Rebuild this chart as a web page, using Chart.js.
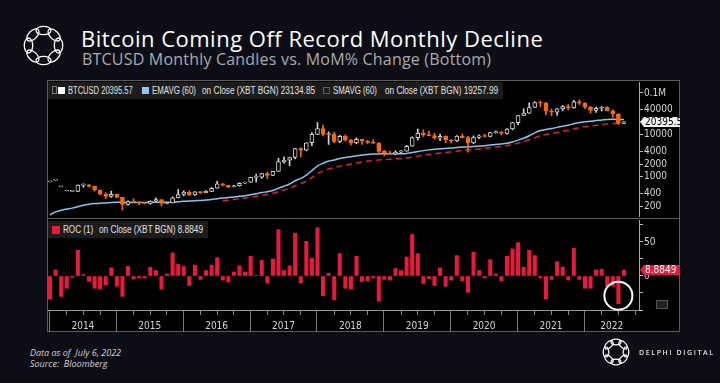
<!DOCTYPE html>
<html>
<head>
<meta charset="utf-8">
<script src="https://cdn.jsdelivr.net/npm/chart.js@4.4.1/dist/chart.umd.min.js"></script>
<style>
  html, body { margin: 0; padding: 0; }
  body { width: 720px; height: 383px; background: #0d0e15; position: relative; overflow: hidden; font-family: 'Open Sans', sans-serif; }
  .abs { position: absolute; }
  #title { left: 81px; top: 27px; font-size: 22px; line-height: 22px; letter-spacing: 0.5px; color: #fff; white-space: nowrap; }
  #subtitle { left: 82px; top: 51px; font-size: 16px; line-height: 16px; letter-spacing: 0.2px; color: #a9aab1; white-space: nowrap; }
  #panel { left: 47px; top: 80px; width: 633px; height: 252px; background: #000; border: 1px solid #5c5c5c; box-sizing: border-box; }
  #divider { left: 47px; top: 218px; width: 633px; height: 1px; background: #5c5c5c; }
  canvas { position: absolute; }
  .lg { position: absolute; background: #1c1c1c; }
  .lt { position: absolute; font-family: 'Liberation Sans', Arial, sans-serif; font-size: 10px; line-height: 10px; color: #e2e2e2; white-space: nowrap; transform-origin: 0 50%; }
  .sw { position: absolute; width: 7px; height: 7px; box-sizing: border-box; }
  .foot { left: 30px; font-size: 9px; line-height: 11px; font-style: italic; color: #d0d0d6; white-space: nowrap; }
  #delphi { left: 639px; top: 349px; font-size: 7px; line-height: 8px; letter-spacing: 1.6px; color: #e0e0e0; font-weight: 600; white-space: nowrap; }
</style>
</head>
<body>
<div id="panel" class="abs"></div>
<div id="divider" class="abs"></div>

<svg class="abs" style="left:21px;top:23px" width="45" height="45" viewBox="-22.5 -22.5 45 45">
  <g fill="none" stroke="#fff" stroke-width="1.3">
    <ellipse rx="7.5" ry="4.2" transform="rotate(0) translate(0,-15)"/>
    <ellipse rx="7.5" ry="4.2" transform="rotate(45) translate(0,-15)"/>
    <ellipse rx="7.5" ry="4.2" transform="rotate(90) translate(0,-15)"/>
    <ellipse rx="7.5" ry="4.2" transform="rotate(135) translate(0,-15)"/>
    <ellipse rx="7.5" ry="4.2" transform="rotate(180) translate(0,-15)"/>
    <ellipse rx="7.5" ry="4.2" transform="rotate(225) translate(0,-15)"/>
    <ellipse rx="7.5" ry="4.2" transform="rotate(270) translate(0,-15)"/>
    <ellipse rx="7.5" ry="4.2" transform="rotate(315) translate(0,-15)"/>
  </g>
</svg>
<div id="title" class="abs">Bitcoin Coming Off Record Monthly Decline</div>
<div id="subtitle" class="abs">BTCUSD Monthly Candles vs. MoM% Change (Bottom)</div>

<canvas id="priceChart" width="633" height="138" style="left:47px;top:80px"></canvas>
<canvas id="rocChart" width="633" height="114" style="left:47px;top:218px"></canvas>

<!-- legends -->
<div class="lg" style="left:48px;top:82px;width:455px;height:17px"></div>
<div class="abs" style="left:52px;top:86px;width:3px;height:6px;border:1px solid #777"></div>
<div class="sw" style="left:58px;top:87px;background:#fff"></div>
<div class="lt" data-w="65" style="left:68px;top:86px">BTCUSD 20395.57</div>
<div class="sw" style="left:142px;top:87px;background:#8fc8f0"></div>
<div class="lt" data-w="44" style="left:152px;top:86px">EMAVG (60)</div>
<div class="lt" data-w="113" style="left:202px;top:86px">on Close (XBT BGN) 23134.85</div>
<div class="sw" style="left:323px;top:87px;border:1px solid #d6233d"></div>
<div class="lt" data-w="44" style="left:333px;top:86px">SMAVG (60)</div>
<div class="lt" data-w="113" style="left:385px;top:86px">on Close (XBT BGN) 19257.99</div>

<div class="lg" style="left:48px;top:221px;width:160px;height:17px"></div>
<div class="sw" style="left:52px;top:226px;width:8px;height:8px;background:#e9183d"></div>
<div class="lt" data-w="30" style="left:63px;top:225px">ROC (1)</div>
<div class="lt" data-w="104" style="left:99px;top:225px">on Close (XBT BGN) 8.8849</div>
<div class="abs" style="left:656px;top:300px;width:10px;height:7px;background:#222;border:1px solid #555"></div>

<div class="abs foot" style="top:347px">Data as of&nbsp; July 6, 2022</div>
<div class="abs foot" style="top:358px">Source:&nbsp; Bloomberg</div>
<svg class="abs" style="left:601px;top:337px" width="30" height="30" viewBox="-22.5 -22.5 45 45">
  <g fill="none" stroke="#fff" stroke-width="1.8">
    <ellipse rx="7.5" ry="4.2" transform="rotate(0) translate(0,-15)"/>
    <ellipse rx="7.5" ry="4.2" transform="rotate(45) translate(0,-15)"/>
    <ellipse rx="7.5" ry="4.2" transform="rotate(90) translate(0,-15)"/>
    <ellipse rx="7.5" ry="4.2" transform="rotate(135) translate(0,-15)"/>
    <ellipse rx="7.5" ry="4.2" transform="rotate(180) translate(0,-15)"/>
    <ellipse rx="7.5" ry="4.2" transform="rotate(225) translate(0,-15)"/>
    <ellipse rx="7.5" ry="4.2" transform="rotate(270) translate(0,-15)"/>
    <ellipse rx="7.5" ry="4.2" transform="rotate(315) translate(0,-15)"/>
  </g>
</svg>
<div id="delphi" class="abs">DELPHI DIGITAL</div>

<script>
// squeeze legend labels to the narrow terminal look
document.querySelectorAll('.lt[data-w]').forEach(el => {
  el.style.transform = 'scaleX(' + (el.dataset.w / el.offsetWidth) + ')';
});

// Monthly BTCUSD candles, Dec 2013 .. Jul 2022 (one entry per month)
const years = ['2014', '2015', '2016', '2017', '2018', '2019', '2020', '2021', '2022'];

const open = [754, 830, 573, 457, 448, 448, 630, 641, 587, 481, 387, 338, 378,
  320, 218, 254, 244, 236, 230, 263, 285, 230, 236, 314, 377,
  431, 369, 438, 417, 448, 531, 673, 625, 575, 610, 699, 742,
  964, 970, 1190, 1071, 1348, 2286, 2480, 2875, 4703, 4338, 6468, 10233,
  14156, 10221, 10397, 6973, 9240, 7494, 6404, 7780, 7037, 6625, 6318, 4017,
  3742, 3457, 3854, 4105, 5350, 8574, 10817, 10085, 9630, 8293, 9199, 7569,
  7193, 9350, 8599, 6438, 8658, 9461, 9137, 11323, 11680, 10784, 13781, 19625,
  29002, 33114, 45137, 58918, 57750, 37332, 35041, 41626, 47166, 43791, 61318, 57005,
  46306, 38483, 43194, 45538, 37714, 31792, 18731];

const high = [754, 830, 573, 457, 448, 640, 680, 650, 600, 490, 415, 455, 385,
  325, 265, 300, 260, 245, 268, 315, 285, 245, 330, 495, 465,
  460, 440, 440, 470, 550, 780, 700, 625, 620, 720, 750, 975,
  1150, 1210, 1290, 1350, 2760, 2980, 2950, 4750, 4980, 6470, 11400, 19800,
  17200, 11800, 11700, 9750, 10000, 7780, 8480, 7900, 7400, 7680, 6550, 4300,
  4100, 4200, 4300, 5600, 9000, 13800, 13200, 12300, 10900, 10500, 9500, 7750,
  9600, 10500, 9200, 9480, 10080, 10400, 11450, 12480, 12100, 14100, 19900, 29300,
  41950, 58350, 61800, 64900, 59500, 41300, 42400, 50500, 52900, 67000, 69000, 59100,
  47900, 45800, 48200, 47400, 39900, 31900, 20700];

const low = [754, 830, 573, 457, 448, 440, 560, 570, 450, 370, 300, 320, 310,
  160, 210, 240, 215, 225, 220, 255, 200, 225, 235, 310, 350,
  355, 360, 400, 410, 440, 530, 600, 545, 570, 600, 690, 740,
  750, 910, 900, 1060, 1340, 2100, 1830, 2670, 2975, 4150, 5500, 10200,
  9400, 5900, 6500, 6500, 7050, 5760, 6100, 5880, 6100, 6200, 3500, 3150,
  3400, 3350, 3700, 4080, 5300, 7500, 9100, 9400, 7800, 7300, 6500, 6400,
  6900, 8450, 3850, 6150, 8100, 8900, 8950, 10950, 9880, 10400, 13200, 17600,
  28700, 32300, 45000, 47000, 30000, 28800, 29300, 37300, 39600, 43300, 53300, 42000,
  32900, 34300, 37200, 37600, 26700, 17600, 18700];

const close = [754, 830, 573, 457, 448, 630, 641, 587, 481, 387, 338, 378, 320,
  218, 254, 244, 236, 230, 263, 285, 230, 236, 314, 377, 431,
  369, 438, 417, 448, 531, 673, 625, 575, 610, 699, 742, 964,
  970, 1190, 1071, 1348, 2286, 2480, 2875, 4703, 4338, 6468, 10233, 14156,
  10221, 10397, 6973, 9240, 7494, 6404, 7780, 7037, 6625, 6318, 4017, 3742,
  3457, 3854, 4105, 5350, 8574, 10817, 10085, 9630, 8293, 9199, 7569, 7193,
  9350, 8599, 6438, 8658, 9461, 9137, 11323, 11680, 10784, 13781, 19625, 29002,
  33114, 45137, 58918, 57750, 37332, 35041, 41626, 47166, 43791, 61318, 57005, 46306,
  38483, 43194, 45538, 37714, 31792, 18731, 20395.57];

const emaAvg = [122, 145, 159, 169, 178, 193, 208, 220, 229, 234, 237, 242, 245,
  244, 244, 244, 244, 244, 245, 246, 246, 245, 248, 252, 258,
  262, 267, 272, 278, 286, 299, 310, 319, 328, 340, 353, 373,
  393, 419, 440, 470, 530, 594, 669, 801, 917, 1099, 1399, 1817,
  2093, 2365, 2516, 2737, 2893, 3008, 3165, 3292, 3401, 3497, 3514, 3521,
  3519, 3530, 3549, 3608, 3771, 4002, 4202, 4380, 4508, 4662, 4757, 4837,
  4985, 5104, 5148, 5263, 5401, 5524, 5714, 5910, 6070, 6323, 6759, 7489,
  8329, 9536, 11156, 12684, 13492, 14199, 15099, 16151, 17058, 18510, 19773, 20643,
  21228, 21949, 22723, 23215, 23496, 23340, 23134.85];

const smaAvg = [null, null, null, null, null, null, null, null, null, null, null, null, null,
  null, null, null, null, null, null, null, null, null, null, null, null,
  null, null, null, null, null, null, 266, 276, 286, 298, 310, 326,
  342, 362, 380, 402, 440, 481, 529, 607, 679, 787, 957, 1193,
  1363, 1536, 1634, 1785, 1908, 2013, 2141, 2256, 2364, 2466, 2514, 2564,
  2608, 2663, 2723, 2805, 2938, 3107, 3265, 3418, 3550, 3697, 3817, 3932,
  4084, 4223, 4326, 4467, 4621, 4769, 4953, 5143, 5319, 5544, 5865, 6341,
  6887, 7632, 8607, 9562, 10175, 10748, 11431, 12208, 12927, 13938, 14875, 15631,
  16256, 16956, 17697, 18304, 18795, 19066, 19257.99];

// month-over-month % change
const roc = [-34, 9, -30, -18, -2, 38, 2, -8, -18, -19, -13, 12, -15,
  -30, 14, -4, -3, -3, 13, 8, -19, 3, 34, 17, 14,
  -14, 16, -5, 8, 16, 27, -6, -9, 6, 15, 6, 29,
  1, 23, -10, 25, 68, 8, 15, 63, -10, 51, 26, 71,
  -29, 4, -35, 33, -18, -19, 29, -8, -7, -3, -37, -5,
  -6, 11, 8, 28, 61, 33, -11, -4, -14, 12, -15, -6,
  30, -7, -24, 35, 8, -3, 24, 3, -7, 29, 40, 49,
  13, 38, 30, -3, -34, -5, 21, 13, -6, 41, -5, -18,
  -18, 9, 10, -15, -15, -41, 8.8849];

const priceTicks = [200, 400, 1000, 2000, 4000, 10000, 40000, 100000];
const rocTicks = [-50, -25, 0, 25, 50, 75];

const ORANGE = '#f26b12';
const UP_LINE = '#d2d2d2';
const ROC_RED = '#e9183d';
const X_MIN = -0.36, X_MAX = 105.7;

Chart.defaults.font.family = "'Liberation Sans Narrow', 'DejaVu Sans Condensed', sans-serif";
Chart.defaults.font.size = 10;
Chart.defaults.color = '#d4d4d4';

const idx = close.map((_, i) => i);
const isUp = idx.map(i => close[i] >= open[i]);

// value tag drawn on the right axis
function valueTag(ctx, x, y, w, fill, text, textColor) {
  ctx.save();
  ctx.fillStyle = fill;
  ctx.beginPath();
  ctx.moveTo(x, y);
  ctx.lineTo(x + 4, y - 5);
  ctx.lineTo(x + w, y - 5);
  ctx.lineTo(x + w, y + 5);
  ctx.lineTo(x + 4, y + 5);
  ctx.closePath();
  ctx.fill();
  ctx.fillStyle = textColor;
  ctx.font = "10px 'Liberation Sans Narrow', 'DejaVu Sans Condensed', sans-serif";
  ctx.textBaseline = 'middle';
  ctx.fillText(text, x + 5, y + 0.5);
  ctx.restore();
}

const priceTag = {
  id: 'priceTag',
  afterDraw(chart) {
    const y = chart.scales.y.getPixelForValue(close[close.length - 1]);
    valueTag(chart.ctx, chart.chartArea.right + 1, y, 60, '#f2f2f2', '20395.57', '#000');
  }
};

new Chart(document.getElementById('priceChart'), {
  type: 'bar',
  data: {
    datasets: [
      {
        label: 'BTCUSD',
        data: idx.map(i => ({ x: i, y: [open[i], close[i]] })),
        grouped: false,
        barThickness: 4,
        minBarLength: 1,
        backgroundColor: idx.map(i => isUp[i] ? '#000' : ORANGE),
        borderColor: idx.map(i => isUp[i] ? UP_LINE : ORANGE),
        borderWidth: 1,
        borderSkipped: false
      },
      {
        label: 'range',
        data: idx.map(i => ({ x: i, y: [low[i], high[i]] })),
        grouped: false,
        barThickness: 1,
        backgroundColor: idx.map(i => isUp[i] ? UP_LINE : ORANGE)
      },
      {
        type: 'line',
        label: 'EMAVG (60)',
        data: idx.map(i => ({ x: i, y: emaAvg[i] })),
        borderColor: '#8cc3ec',
        borderWidth: 1.5,
        pointRadius: 0,
        tension: 0.3
      },
      {
        type: 'line',
        label: 'SMAVG (60)',
        data: idx.map(i => ({ x: i, y: smaAvg[i] })),
        borderColor: '#d6233d',
        borderWidth: 1.5,
        borderDash: [6, 4],
        pointRadius: 0,
        tension: 0.3
      }
    ]
  },
  options: {
    responsive: false,
    animation: false,
    events: [],
    layout: { padding: { left: 1, top: 2, bottom: 2, right: 0 } },
    plugins: { legend: { display: false }, tooltip: { enabled: false } },
    scales: {
      x: { type: 'linear', min: X_MIN, max: X_MAX, offset: false, display: false, grid: { offset: false } },
      y: {
        type: 'logarithmic',
        position: 'right',
        min: 115.4,
        max: 183100,
        afterBuildTicks: s => { s.ticks = priceTicks.map(v => ({ value: v })); },
        afterFit: s => { s.width = 41; s.paddingTop = 0; s.paddingBottom = 0; },
        grid: { drawOnChartArea: false, tickLength: 4, tickColor: '#bdbdbd' },
        border: { color: '#a8a8a8' },
        ticks: { autoSkip: false, padding: 1, callback: v => v === 100000 ? '0.1M' : String(v) }
      }
    }
  },
  plugins: [priceTag]
});

// bottom axis: year separators + centred year labels
const xTicks = [];
for (let m = 0; m * 3 - 0.1 < X_MAX; m += 4) xTicks.push({ value: m * 3 - 0.1, year: true, text: '' });
years.forEach((yr, k) => {
  const a = k * 12 - 0.1, b = Math.min(a + 12, X_MAX);
  xTicks.push({ value: (a + b) / 2, year: false, text: yr });
});
xTicks.sort((p, q) => p.value - q.value);

const quarterTicks = {
  id: 'quarterTicks',
  afterDraw(chart) {
    const xs = chart.scales.x, ctx = chart.ctx, y0 = chart.chartArea.bottom;
    ctx.save();
    ctx.strokeStyle = '#8a8a8a';
    ctx.lineWidth = 1;
    for (let m = 1; m * 3 - 0.1 < X_MAX; m++) {
      if (m % 4 === 0) continue;
      const x = Math.round(xs.getPixelForValue(m * 3 - 0.1)) + 0.5;
      ctx.beginPath();
      ctx.moveTo(x, y0);
      ctx.lineTo(x, y0 + 5);
      ctx.stroke();
    }
    ctx.restore();
  }
};

const rocMarks = {
  id: 'rocMarks',
  afterDraw(chart) {
    const xs = chart.scales.x, ys = chart.scales.y, ctx = chart.ctx;
    // highlight the June 2022 bar
    ctx.save();
    ctx.strokeStyle = '#fff';
    ctx.lineWidth = 2;
    ctx.beginPath();
    ctx.arc(xs.getPixelForValue(102), ys.getPixelForValue(-29), 14, 0, Math.PI * 2);
    ctx.stroke();
    ctx.restore();
    const last = roc[roc.length - 1];
    valueTag(ctx, chart.chartArea.right + 1, ys.getPixelForValue(last), 60, ROC_RED, '8.8849', '#fff');
  }
};

new Chart(document.getElementById('rocChart'), {
  type: 'bar',
  data: {
    datasets: [{
      label: 'ROC (1)',
      data: idx.map(i => ({ x: i, y: roc[i] })),
      grouped: false,
      barThickness: 3.4,
      backgroundColor: ROC_RED
    }]
  },
  options: {
    responsive: false,
    animation: false,
    events: [],
    layout: { padding: { left: 1, top: 2, right: 0, bottom: 0 } },
    plugins: { legend: { display: false }, tooltip: { enabled: false } },
    scales: {
      x: {
        type: 'linear',
        min: X_MIN,
        max: X_MAX,
        offset: false,
        afterBuildTicks: s => { s.ticks = xTicks.map(t => ({ value: t.value, year: t.year })); },
        afterFit: s => { s.height = 22; s.paddingLeft = 0; s.paddingRight = 0; },
        grid: {
          offset: false,
          drawOnChartArea: false,
          tickLength: 22,
          tickColor: c => (c.tick && c.tick.year) ? '#7a7a7a' : 'rgba(0,0,0,0)'
        },
        border: { color: '#9a9a9a' },
        ticks: { autoSkip: false, maxRotation: 0, padding: -12, callback: (v, i) => xTicks[i].text }
      },
      y: {
        position: 'right',
        min: -50,
        max: 82.35,
        afterBuildTicks: s => { s.ticks = rocTicks.map(v => ({ value: v })); },
        afterFit: s => { s.width = 41; s.paddingTop = 0; s.paddingBottom = 0; },
        grid: { drawOnChartArea: false, tickLength: 4, tickColor: '#bdbdbd' },
        border: { color: '#a8a8a8' },
        ticks: { autoSkip: false, padding: 1, callback: v => (v === 0 || v === 50) ? String(v) : '' }
      }
    }
  },
  plugins: [quarterTicks, rocMarks]
});
</script>
</body>
</html>
